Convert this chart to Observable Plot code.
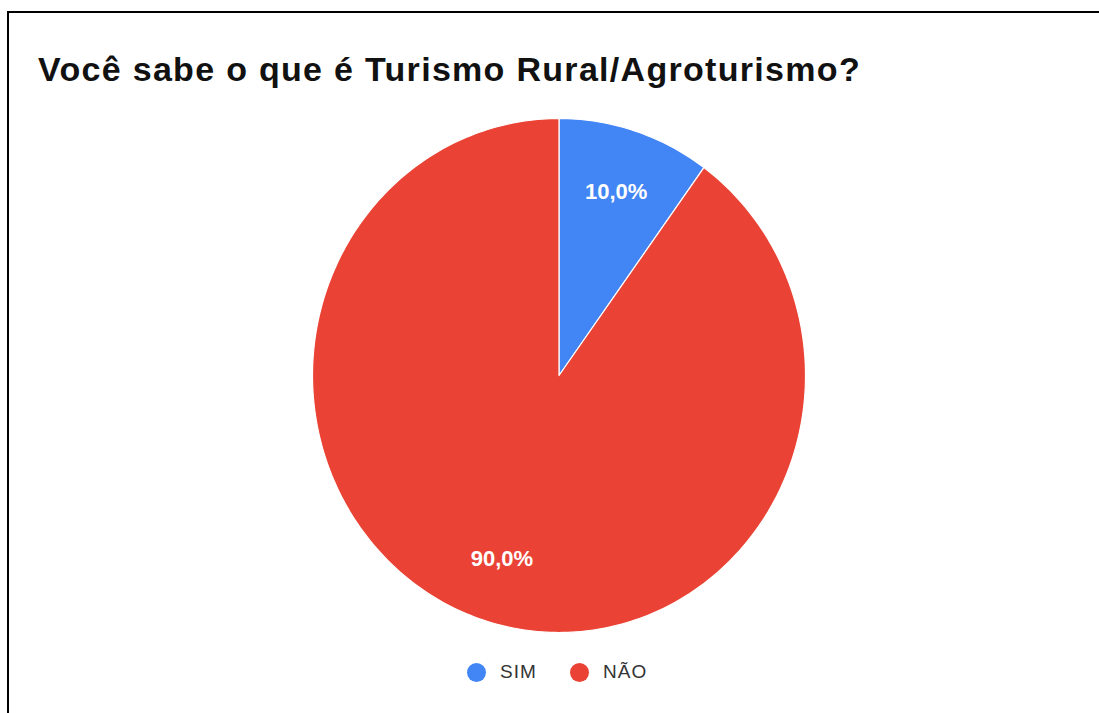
<!DOCTYPE html>
<html>
<head>
<meta charset="utf-8">
<script src="https://cdn.jsdelivr.net/npm/d3@7"></script>
<script src="https://cdn.jsdelivr.net/npm/@observablehq/plot@0.6"></script>
<style>
  html, body { margin: 0; padding: 0; background: #fff; }
  body { width: 1099px; height: 713px; position: relative; overflow: hidden; font-family: "Liberation Sans", Arial, sans-serif; }
  #frame { position: absolute; left: 7px; top: 11px; width: 1200px; height: 800px; border-top: 2px solid #000; border-left: 2px solid #000; }
  #title { position: absolute; left: 38px; top: 50px; font-size: 34px; font-weight: bold; color: #111; white-space: nowrap; letter-spacing: 1.3px; }
  #chart { position: absolute; left: 0; top: 0; }
  #legend { position: absolute; top: 660px; left: 0; width: 1099px; font-size: 19px; color: #333; letter-spacing: 1px; }
  .item { position: absolute; top: 0; display: flex; align-items: center; height: 24px; }
  .sw { width: 19px; height: 19px; border-radius: 50%; margin-right: 14px; }
</style>
</head>
<body>
<div id="frame"></div>
<div id="chart"></div>
<div id="title">Você sabe o que é Turismo Rural/Agroturismo?</div>
<div id="legend"></div>
<script>
const categories = ["SIM", "NÃO"];
const values = [10, 90];
const labels = ["10,0%", "90,0%"];
const colors = ["#4285F4", "#EA4335"];

const total = d3.sum(values);
let acc = 0;
const slices = [];
const labelPts = [];
categories.forEach((c, i) => {
  const a0 = acc / total * 2 * Math.PI;
  acc += values[i];
  const a1 = acc / total * 2 * Math.PI;
  const n = Math.max(2, Math.ceil((a1 - a0) / (Math.PI / 180)));
  slices.push({cat: c, x: 0, y: 0, k: 0});
  for (let j = 0; j <= n; j++) {
    const a = a0 + (a1 - a0) * j / n;
    slices.push({cat: c, x: Math.sin(a), y: Math.cos(a), k: j + 1});
  }
  slices.push({cat: c, x: 0, y: 0, k: n + 2});
  const am = (a0 + a1) / 2;
  labelPts.push({cat: c, label: labels[i], x: 0.75 * Math.sin(am), y: 0.75 * Math.cos(am)});
});

const plot = Plot.plot({
  width: 1099,
  height: 713,
  margin: 0,
  x: {domain: [-1, 1], range: [312, 805], axis: null},
  y: {domain: [-1, 1], range: [632, 118], axis: null},
  color: {domain: categories, range: colors},
  marks: [
    Plot.line(slices, {x: "x", y: "y", z: "cat", fill: "cat", stroke: "#fff", strokeWidth: 1.2, curve: "linear"}),
    Plot.text(labelPts, {x: "x", y: "y", text: "label", fill: "#fff", fontSize: 22, fontWeight: "bold", fontFamily: "Liberation Sans, Arial, sans-serif", style: "letter-spacing: 1px"})
  ]
});
document.getElementById("chart").appendChild(plot);

const legend = document.getElementById("legend");
const lx = [467, 570];
categories.forEach((c, i) => {
  const it = document.createElement("div");
  it.className = "item";
  it.style.left = lx[i] + "px";
  it.innerHTML = `<span class="sw" style="background:${colors[i]}"></span><span>${c}</span>`;
  legend.appendChild(it);
});
</script>
</body>
</html>
